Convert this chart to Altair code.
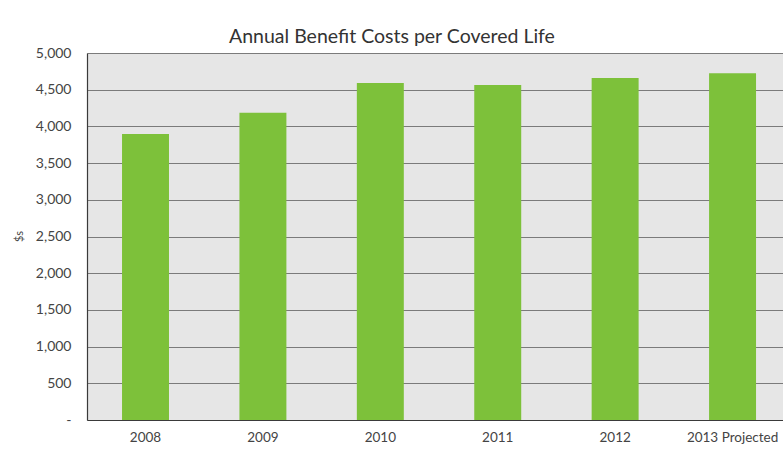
import altair as alt
import pandas as pd

years = ["2008", "2009", "2010", "2011", "2012", "2013 Projected"]
costs = [3895, 4185, 4590, 4565, 4660, 4725]
y_ticks = [0, 500, 1000, 1500, 2000, 2500, 3000, 3500, 4000, 4500, 5000]

df = pd.DataFrame({"year": years, "cost": costs})

FONT = "Lato"

chart = alt.Chart(df).mark_bar(color="#7dc13a").encode(
    x=alt.X(
        "year:N",
        sort=years,
        title=None,
        scale=alt.Scale(paddingInner=0.6, paddingOuter=0.264, align=0.565),
        axis=alt.Axis(
            labelAngle=0,
            labelFont=FONT,
            labelFontSize=13.5,
            labelColor="#444444",
            labelPadding=10,
            ticks=False,
            domain=True,
            domainColor="#3a3a3a",
            domainWidth=1.2,
            grid=False,
        ),
    ),
    y=alt.Y(
        "cost:Q",
        title="$s",
        scale=alt.Scale(domain=[0, 5000], nice=False),
        axis=alt.Axis(
            values=y_ticks,
            labelExpr="datum.value == 0 ? '-' : format(datum.value, ',')",
            labelFont=FONT,
            labelFontSize=14,
            labelColor="#444444",
            labelPadding=16,
            ticks=False,
            domain=True,
            domainColor="#3a3a3a",
            domainWidth=1.2,
            grid=True,
            gridColor="#6e6e6e",
            gridWidth=0.9,
            titleFont=FONT,
            titleFontSize=11,
            titleFontWeight="normal",
            titleColor="#444444",
            titleAngle=-90,
            titleX=-68,
            titleY=183,
            titleAlign="center",
            titleBaseline="middle",
        ),
    ),
).properties(
    width=696,
    height=367,
    title=alt.TitleParams(
        "Annual Benefit Costs per Covered Life",
        font=FONT,
        fontSize=19.5,
        fontWeight="normal",
        color="#333333",
        anchor="middle",
        dx=-43,
        offset=-1,
    ),
    autosize=alt.AutoSizeParams(type="none"),
    padding={"left": 87, "top": 53, "right": 0, "bottom": 34},
    background="white",
).configure_view(
    fill="#e6e6e6",
    stroke=None,
)

chart.save("out.html", embed_options={"renderer": "svg", "actions": False})
